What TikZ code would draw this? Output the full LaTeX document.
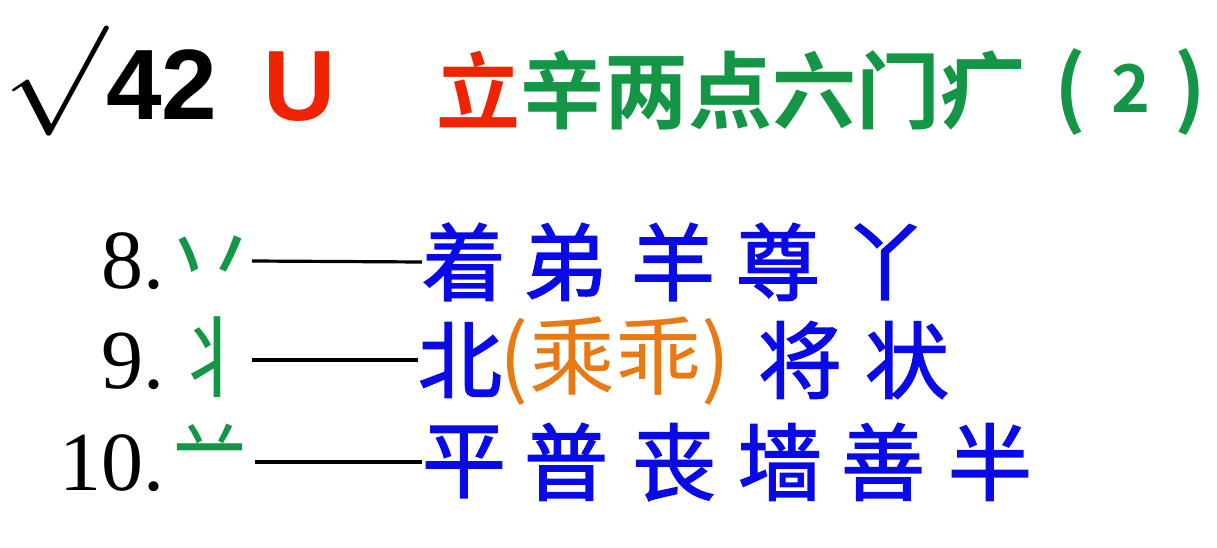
\documentclass[tikz,border=0pt]{standalone}
\usepackage{fontspec}
\setmainfont{Liberation Serif}
\newfontfamily\sansf{Liberation Sans}
\newfontfamily\cjk{Noto Sans CJK SC}
\newfontfamily\cjkm{Noto Sans CJK SC}[FakeBold=1.8]
\newfontfamily\cjkb{Noto Sans CJK SC Bold}
\definecolor{tgreen}{RGB}{20,150,70}
\definecolor{tred}{RGB}{240,35,0}
\definecolor{tblue}{RGB}{10,10,230}
\definecolor{torange}{RGB}{232,122,20}
\tikzset{
  every node/.style={inner sep=0pt,outer sep=0pt},
  titlecj/.style={font=\cjkb\fontsize{84}{90}\selectfont},
  bluecj/.style={font=\cjkm\fontsize{84}{90}\selectfont,text=tblue},
  orcj/.style={font=\cjk\fontsize{86}{90}\selectfont,text=torange},
  numlab/.style={font=\fontsize{84}{90}\selectfont,anchor=base east},
  radical/.style={font=\cjk\fontsize{80}{90}\selectfont,text=tgreen},
  dashline/.style={line width=3.2pt,black}
}
\begin{document}
\begin{tikzpicture}[x=1pt,y=-1pt]
\useasboundingbox (0,0) rectangle (1217,548);
% title
\node[anchor=base] (sq) at (55,109) {\scalebox{12.4}[11]{\smash{$\surd$}}};
\node[anchor=base west,font=\sansf\bfseries\fontsize{100}{100}\selectfont] (ft) at (106,120) {42};
\node[anchor=base west,font=\sansf\bfseries\fontsize{100}{100}\selectfont,text=tred] (u) at (263,121) {U};
\node[titlecj,text=tred] (li) at (478,90) {立};
\node[titlecj,text=tgreen,anchor=west] (rest) at (520,90) {辛两点六门疒};
\node[titlecj,text=tgreen] (lp) at (1070,92) {(};
\node[font=\cjkb\fontsize{66}{70}\selectfont,text=tgreen] (two) at (1131,88) {2};
\node[titlecj,text=tgreen] (rp) at (1190,92) {)};
% row 8
\node[numlab] (n8) at (164,288) {8.};
\node[radical,font=\cjk\fontsize{94}{90}\selectfont,yscale=1.2] (r8) at (210,268) {丷};
\coordinate (s8) at (252,261);
\node[bluecj] (a1) at (464,262) {着};
\node[bluecj] (a2) at (565,262) {弟};
\node[bluecj] (a3) at (673,262) {羊};
\node[bluecj] (a4) at (778,262) {尊};
\node[bluecj] (a5) at (885,262) {丫};
\draw[dashline] (s8) -- (a1.west);
% row 9
\node[numlab] (n9) at (164,388) {9.};
\node[radical,font=\cjk\fontsize{88}{90}\selectfont] (r9) at (214,357) {丬};
\coordinate (s9) at (252,360);
\node[bluecj] (b1) at (460,360) {北};
\node[orcj] (b2) at (615,361) {(乘乖)};
\node[bluecj] (b6) at (800,360) {将};
\node[bluecj] (b7) at (907,360) {状};
\draw[dashline] (s9) -- (b1.west);
% row 10
\node[numlab] (n10) at (164,490) {10.};
\node[radical,font=\cjk\fontsize{73}{90}\selectfont,yscale=1.4] (r10) at (210,454) {䒑};
\coordinate (s10) at (255,462);
\node[bluecj] (c1) at (464,462) {平};
\node[bluecj] (c2) at (566,462) {普};
\node[bluecj] (c3) at (674,462) {丧};
\node[bluecj] (c4) at (780,462) {墙};
\node[bluecj] (c5) at (883,462) {善};
\node[bluecj] (c6) at (990,462) {半};
\draw[dashline] (s10) -- (c1.west);
\end{tikzpicture}
\end{document}
